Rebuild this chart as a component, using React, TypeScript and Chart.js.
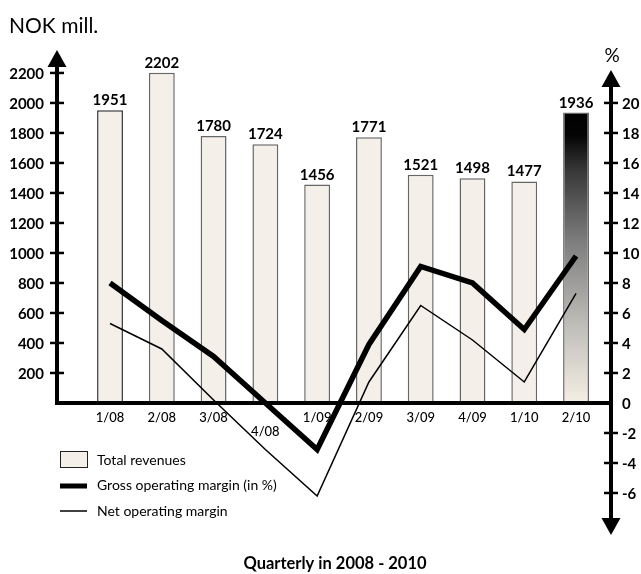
import React, { useEffect, useRef } from "react";
import { Chart, registerables } from "chart.js";

Chart.register(...registerables);

// Quarterly figures
const quarters = ["1/08", "2/08", "3/08", "4/08", "1/09", "2/09", "3/09", "4/09", "1/10", "2/10"];
const totalRevenues = [1951, 2202, 1780, 1724, 1456, 1771, 1521, 1498, 1477, 1936];
const grossMargin = [8.0, 5.5, 3.1, 0.0, -3.1, 3.9, 9.1, 8.0, 4.9, 9.8];
const netMargin = [5.3, 3.6, 0.2, -3.1, -6.2, 1.4, 6.5, 4.2, 1.4, 7.3];

// Axis tick labels
const revenueTicks = [200, 400, 600, 800, 1000, 1200, 1400, 1600, 1800, 2000, 2200];
const percentTicks = [-6, -4, -2, 0, 2, 4, 6, 8, 10, 12, 14, 16, 18, 20];
const loweredQuarterLabels = ["4/08"];

const FONT = "Lato, 'Noto Sans', sans-serif";
const CREAM = "#f4f0e9";

const axesPlugin = {
  id: "axesAndText",
  afterDatasetsDraw(chart: any) {
    const { ctx, chartArea, scales } = chart;
    const xs = scales.x;
    const yL = scales.y;
    const yR = scales.y1;
    const left = chartArea.left;
    const right = chartArea.right;
    const zeroY = yL.getPixelForValue(0);

    ctx.save();
    ctx.fillStyle = "#000";
    ctx.strokeStyle = "#000";
    ctx.lineCap = "butt";

    // left axis with arrow
    ctx.lineWidth = 4;
    ctx.beginPath();
    ctx.moveTo(left, zeroY + 2);
    ctx.lineTo(left, chartArea.top + 14);
    ctx.stroke();
    ctx.beginPath();
    ctx.moveTo(left, chartArea.top);
    ctx.lineTo(left - 9.5, chartArea.top + 17);
    ctx.lineTo(left + 9.5, chartArea.top + 17);
    ctx.closePath();
    ctx.fill();

    // x axis
    ctx.beginPath();
    ctx.moveTo(left - 2, zeroY);
    ctx.lineTo(right + 2, zeroY);
    ctx.stroke();

    // right axis with arrows at both ends
    const rTop = chartArea.top + 20;
    const rBottom = chartArea.bottom;
    ctx.beginPath();
    ctx.moveTo(right, rTop + 14);
    ctx.lineTo(right, rBottom - 14);
    ctx.stroke();
    ctx.beginPath();
    ctx.moveTo(right, rTop);
    ctx.lineTo(right - 9.5, rTop + 17);
    ctx.lineTo(right + 9.5, rTop + 17);
    ctx.closePath();
    ctx.fill();
    ctx.beginPath();
    ctx.moveTo(right, rBottom);
    ctx.lineTo(right - 9.5, rBottom - 17);
    ctx.lineTo(right + 9.5, rBottom - 17);
    ctx.closePath();
    ctx.fill();

    // left ticks
    ctx.lineWidth = 2.5;
    ctx.font = `bold 15px ${FONT}`;
    ctx.textAlign = "right";
    ctx.textBaseline = "middle";
    revenueTicks.forEach((v) => {
      const y = yL.getPixelForValue(v);
      ctx.beginPath();
      ctx.moveTo(left - 7, y);
      ctx.lineTo(left + 7, y);
      ctx.stroke();
      ctx.fillText(String(v), left - 13, y + 1);
    });

    // right ticks
    ctx.textAlign = "left";
    percentTicks.forEach((v) => {
      const y = yR.getPixelForValue(v);
      if (v !== 0) {
        ctx.beginPath();
        ctx.moveTo(right - 7, y);
        ctx.lineTo(right + 7, y);
        ctx.stroke();
      }
      ctx.fillText(String(v), right + 11, y + 1);
    });

    // quarter labels
    ctx.font = `500 13px ${FONT}`;
    ctx.textAlign = "center";
    ctx.textBaseline = "alphabetic";
    quarters.forEach((q, i) => {
      const x = xs.getPixelForValue(i);
      const lowered = loweredQuarterLabels.includes(q);
      ctx.fillText(q, x, zeroY + (lowered ? 33 : 19));
    });

    // value labels above bars
    const barMeta = chart.getDatasetMeta(0);
    ctx.font = `bold 15px ${FONT}`;
    ctx.textBaseline = "alphabetic";
    barMeta.data.forEach((bar: any, i: number) => {
      ctx.fillText(String(totalRevenues[i]), bar.x, bar.y - 5);
    });

    // unit captions
    ctx.font = `21px ${FONT}`;
    ctx.textAlign = "left";
    ctx.fillText("NOK mill.", 9, 33);
    ctx.font = `19px ${FONT}`;
    ctx.textAlign = "center";
    ctx.fillText("%", right + 1, 62);

    // footer
    ctx.font = `bold 16.5px ${FONT}`;
    ctx.fillText("Quarterly in 2008 - 2010", 335, 569);

    // legend
    const ds = chart.data.datasets;
    const lx = 60;
    ctx.textAlign = "left";
    ctx.textBaseline = "middle";
    ctx.font = `14px ${FONT}`;
    // bar swatch
    ctx.fillStyle = CREAM;
    ctx.fillRect(lx, 451, 27, 16);
    ctx.lineWidth = 1;
    ctx.strokeStyle = "#222";
    ctx.strokeRect(lx + 0.5, 451.5, 27, 16);
    ctx.fillStyle = "#000";
    ctx.fillText(ds[0].label, 97, 460);
    // thick line swatch
    ctx.strokeStyle = "#000";
    ctx.lineWidth = 5;
    ctx.beginPath();
    ctx.moveTo(lx, 486);
    ctx.lineTo(lx + 27, 486);
    ctx.stroke();
    ctx.fillText(ds[1].label, 97, 485);
    // thin line swatch
    ctx.lineWidth = 1.5;
    ctx.beginPath();
    ctx.moveTo(lx, 511);
    ctx.lineTo(lx + 27, 511);
    ctx.stroke();
    ctx.fillText(ds[2].label, 97, 511);

    ctx.restore();
  },
};

function barFill(ctx: any) {
  const i = ctx.dataIndex;
  if (i !== totalRevenues.length - 1) return CREAM;
  const chart = ctx.chart;
  const yScale = chart.scales?.y;
  if (!yScale) return "#888";
  const top = yScale.getPixelForValue(totalRevenues[i]);
  const bottom = yScale.getPixelForValue(0);
  const g = chart.ctx.createLinearGradient(0, top, 0, bottom);
  g.addColorStop(0, "#000000");
  g.addColorStop(0.08, "#050505");
  g.addColorStop(0.2, "#383838");
  g.addColorStop(0.45, "#7f7f7f");
  g.addColorStop(0.75, "#c3c1bc");
  g.addColorStop(1, "#f5eee4");
  return g;
}

export default function App() {
  const canvasRef = useRef<HTMLCanvasElement | null>(null);

  useEffect(() => {
    const canvas = canvasRef.current;
    if (!canvas) return;
    const chart = new Chart(canvas, {
      type: "bar",
      data: {
        datasets: [
          {
            type: "bar",
            label: "Total revenues",
            data: totalRevenues.map((v, i) => ({ x: i, y: v })),
            backgroundColor: barFill,
            borderColor: (c: any) => (c.dataIndex === 0 ? "#333" : "#666"),
            borderWidth: 1.5,
            barPercentage: 0.5,
            categoryPercentage: 1,
            yAxisID: "y",
            order: 2,
          },
          {
            type: "line",
            label: "Gross operating margin (in %)",
            data: grossMargin.map((v, i) => ({ x: i, y: v })),
            borderColor: "#000",
            borderWidth: 5.5,
            pointRadius: 0,
            tension: 0,
            borderJoinStyle: "miter",
            borderCapStyle: "butt",
            yAxisID: "y1",
            order: 1,
          },
          {
            type: "line",
            label: "Net operating margin",
            data: netMargin.map((v, i) => ({ x: i, y: v })),
            borderColor: "#000",
            borderWidth: 1.5,
            pointRadius: 0,
            tension: 0,
            borderJoinStyle: "miter",
            yAxisID: "y1",
            order: 1,
          },
        ] as any,
      },
      options: {
        responsive: false,
        animation: false,
        devicePixelRatio: 1,
        layout: { padding: { left: 57, right: 30, top: 50, bottom: 39 } },
        plugins: {
          legend: { display: false },
          tooltip: { enabled: false },
          title: { display: false },
        },
        scales: {
          x: { type: "linear", min: -1.024, max: 9.675, offset: false, display: false },
          y: { type: "linear", min: -880, max: 2353, display: false },
          y1: { type: "linear", position: "right", min: -8.8, max: 23.53, display: false },
        },
      } as any,
      plugins: [axesPlugin],
    });
    return () => chart.destroy();
  }, []);

  return (
    <div style={{ position: "absolute", left: 0, top: 0, width: 641, height: 574, background: "#fff" }}>
      <canvas ref={canvasRef} width={641} height={574} style={{ display: "block" }} />
    </div>
  );
}
